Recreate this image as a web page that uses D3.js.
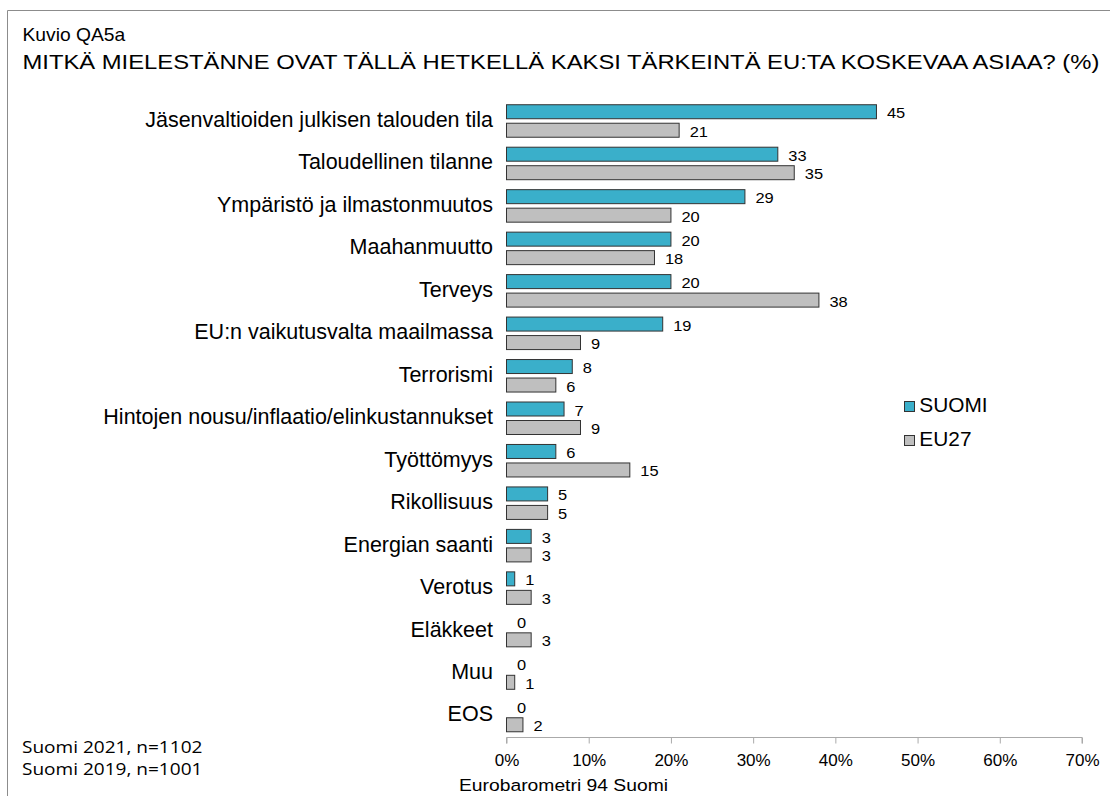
<!DOCTYPE html>
<html><head><meta charset="utf-8">
<script src="https://cdn.jsdelivr.net/npm/d3@7"></script>
<style>body{margin:0;background:#fff}svg{display:block}</style>
</head><body>
<svg id="c" width="1110" height="796"></svg>
<script>
const categories = ["Jäsenvaltioiden julkisen talouden tila","Taloudellinen tilanne","Ympäristö ja ilmastonmuutos","Maahanmuutto","Terveys","EU:n vaikutusvalta maailmassa","Terrorismi","Hintojen nousu/inflaatio/elinkustannukset","Työttömyys","Rikollisuus","Energian saanti","Verotus","Eläkkeet","Muu","EOS"];
const suomi = [45,33,29,20,20,19,8,7,6,5,3,1,0,0,0];
const eu27 = [21,35,20,18,38,9,6,9,15,5,3,3,3,1,2];
const seriesNames = ["SUOMI","EU27"];
const tickValues = [0,10,20,30,40,50,60,70];

const svg = d3.select("#c");
const font = "'Liberation Sans', Arial, sans-serif";
const colors = ["#3aafca","#bfbfbf"];

function txt(x, y, s, size, sx, opts) {
  opts = opts || {};
  const t = svg.append("text")
    .attr("transform", `translate(${x},${y}) scale(${sx},1)`)
    .attr("font-family", opts.family || font)
    .attr("font-size", size)
    .attr("fill", "#000")
    .text(s);
  if (opts.anchor) t.attr("text-anchor", opts.anchor);
  return t;
}

// frame
svg.append("path").attr("d","M7.5,796 L7.5,10.5 L1110,10.5").attr("fill","none").attr("stroke","#8c8c8c").attr("stroke-width",1);

txt(22.5, 40.5, "Kuvio QA5a", 17.5, 1.1);
txt(22.5, 69.3, "MITKÄ MIELESTÄNNE OVAT TÄLLÄ HETKELLÄ KAKSI TÄRKEINTÄ EU:TA KOSKEVAA ASIAA? (%)", 20, 1.19);

const x = d3.scaleLinear().domain([0,70]).range([506.5,1082]);
const y = d3.scaleBand().domain(categories).range([100,737]);

const rows = categories.map((c,i)=>({c, v:[suomi[i], eu27[i]]}));

rows.forEach(r=>{
  const cy = y(r.c) + y.bandwidth()/2;
  [0,1].forEach(s=>{
    const top = s===0 ? cy-16.5 : cy+2;
    const v = r.v[s];
    if (v>0) svg.append("rect").attr("x",x(0)).attr("y",top).attr("width",x(v)-x(0)).attr("height",14)
      .attr("fill",colors[s]).attr("stroke","#333").attr("stroke-width",1);
    txt(x(v)+10.5, top+13.5, v, 15.5, 1.06);
  });
  txt(493, cy+5.7, r.c, 21.5, 1, {anchor:"end"});
});

const axis = d3.axisBottom(x).tickValues(tickValues).tickFormat(d=>d+"%").tickSize(6).tickPadding(10);
const ag = svg.append("g").attr("transform","translate(0,737.5)").call(axis);
ag.selectAll("path,line").attr("stroke","#aaa");
ag.select(".domain").attr("d","M"+x(0)+",6V0H"+x(70)+"V6");
ag.selectAll("text").attr("font-family",font).attr("font-size",17).attr("fill","#000");

// legend
seriesNames.forEach((n,i)=>{
  const ly = 401 + i*34;
  svg.append("rect").attr("x",904.5).attr("y",ly+0.5).attr("width",10).attr("height",10).attr("fill",colors[i]).attr("stroke","#333");
  txt(919.3, ly+11.3, n, 19.5, 1.07);
});

txt(22, 753, "Suomi 2021, n=1102", 16, 1.19, {family:"'Open Sans', Lato, sans-serif"});
txt(22, 775, "Suomi 2019, n=1001", 16, 1.19, {family:"'Open Sans', Lato, sans-serif"});
txt(459, 790.7, "Eurobarometri 94 Suomi", 16.5, 1.17);
</script>
</body></html>
